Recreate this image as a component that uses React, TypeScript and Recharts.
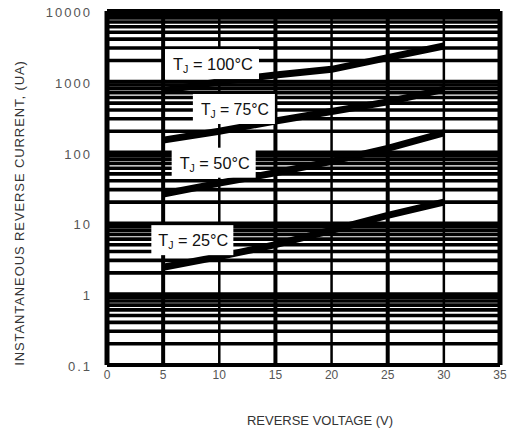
import React from 'react';
import { LineChart, Line, XAxis, YAxis, ReferenceLine, ReferenceDot } from 'recharts';

// Reverse voltage (V) at which the curves were read
const voltage = [5, 10, 15, 20, 25, 30];
// Instantaneous reverse current (uA) per junction temperature
const current25 = [2.4, 3.4, 5, 8, 13, 20];
const current50 = [26, 37, 52, 75, 115, 190];
const current75 = [150, 200, 280, 380, 520, 780];
const current100 = [750, 1000, 1250, 1500, 2200, 3200];

const xTicks = [0, 5, 10, 15, 20, 25, 30, 35];
const yTicks = [0.1, 1, 10, 100, 1000, 10000];
const yTickLabels = ['0.1', '1', '10', '100', '1000', '10000'];
const decades = [0.1, 1, 10, 100, 1000];
const minorSteps = [2, 3, 4, 5, 6, 7, 8, 9];

// curve annotations (anchor in data units)
const labelTemps = ['100', '75', '50', '25'];
const labelV = [9.35, 11.3, 9.5, 7.6];
const labelI = [1780, 413, 72, 5.8];
const labelW = [94, 82, 84, 82];
const labelTextW = [80, 68, 70, 70];

const data = voltage.map((v, i) => ({
  v,
  t25: current25[i],
  t50: current50[i],
  t75: current75[i],
  t100: current100[i],
}));

const minorLines: number[] = [];
decades.forEach((d) => minorSteps.forEach((m) => minorLines.push(+(d * m).toPrecision(3))));

const FONT = "'Liberation Sans', Arial, Helvetica, sans-serif";

const makeLabelShape = (temp: string, w: number, tw: number) => (props: any) => {
  const { cx, cy } = props;
  return (
    <g>
      <rect x={cx - w / 2} y={cy - 15} width={w} height={30} fill="#fff" />
      <text
        x={cx - tw / 2 + 1}
        y={cy + 6}
        fontSize={17}
        fontFamily={FONT}
        fill="#111"
        textLength={tw}
        lengthAdjust="spacingAndGlyphs"
      >
        T
        <tspan fontSize={11} dy={3}>J</tspan>
        <tspan dy={-3}>{` = ${temp}°C`}</tspan>
      </text>
    </g>
  );
};

const XTick = (props: any) => {
  const { x, y, payload } = props;
  return (
    <text x={x} y={y + 14} textAnchor="middle" fontSize={12} fontFamily={FONT} fill="#555">
      {String(payload.value)}
    </text>
  );
};

const YTick = (props: any) => {
  const { x, y, payload } = props;
  const idx = yTicks.indexOf(payload.value);
  return (
    <text
      x={x - 15}
      y={y + 6}
      textAnchor="end"
      fontSize={13}
      fontFamily={FONT}
      fill="#555"
      letterSpacing={2}
    >
      {idx >= 0 ? yTickLabels[idx] : String(payload.value)}
    </text>
  );
};

export default function App() {
  return (
    <div style={{ position: 'absolute', left: 0, top: 0, width: 512, height: 430, background: '#fff' }}>
      <LineChart width={512} height={430} data={data} margin={{ top: 11, right: 12, bottom: 0, left: 0 }}>
        <XAxis
          dataKey="v"
          type="number"
          domain={[0, 35]}
          ticks={xTicks}
          axisLine={false}
          tickLine={false}
          tickSize={0}
          tickMargin={0}
          height={65}
          tick={<XTick />}
          interval={0}
        />
        <YAxis
          type="number"
          scale="log"
          domain={[0.1, 10000]}
          allowDataOverflow
          ticks={yTicks}
          axisLine={false}
          tickLine={false}
          tickSize={0}
          tickMargin={0}
          width={107}
          tick={<YTick />}
          interval={0}
        />
        {minorLines.map((val) => (
          <ReferenceLine key={'m' + val} y={val} stroke="#000" strokeWidth={3.6} />
        ))}
        {yTicks.map((val) => (
          <ReferenceLine key={'M' + val} y={val} stroke="#000" strokeWidth={4} />
        ))}
        {xTicks.map((val) => (
          <ReferenceLine
            key={'x' + val}
            x={val}
            stroke="#000"
            strokeWidth={val === 0 || val === 35 ? 5 : val % 10 === 5 ? 4 : 2.5}
          />
        ))}
        <Line dataKey="t25" stroke="#000" strokeWidth={7} dot={false} isAnimationActive={false} />
        <Line dataKey="t50" stroke="#000" strokeWidth={7} dot={false} isAnimationActive={false} />
        <Line dataKey="t75" stroke="#000" strokeWidth={7} dot={false} isAnimationActive={false} />
        <Line dataKey="t100" stroke="#000" strokeWidth={7} dot={false} isAnimationActive={false} />
        {labelTemps.map((t, i) => (
          <ReferenceDot
            key={'l' + t}
            x={labelV[i]}
            y={labelI[i]}
            r={1}
            shape={makeLabelShape(t, labelW[i], labelTextW[i])}
          />
        ))}
      </LineChart>
      <svg
        width={512}
        height={430}
        style={{ position: 'absolute', left: 0, top: 0, pointerEvents: 'none' }}
      >
        <text
          x={320}
          y={425}
          textAnchor="middle"
          fontSize={13}
          fontFamily={FONT}
          fill="#333"
        >
          REVERSE VOLTAGE (V)
        </text>
        <text
          transform="translate(24, 213) rotate(-90)"
          textAnchor="middle"
          fontSize={13}
          fontFamily={FONT}
          fill="#333"
          letterSpacing={0.9}
        >
          INSTANTANEOUS REVERSE CURRENT, (UA)
        </text>
      </svg>
    </div>
  );
}
